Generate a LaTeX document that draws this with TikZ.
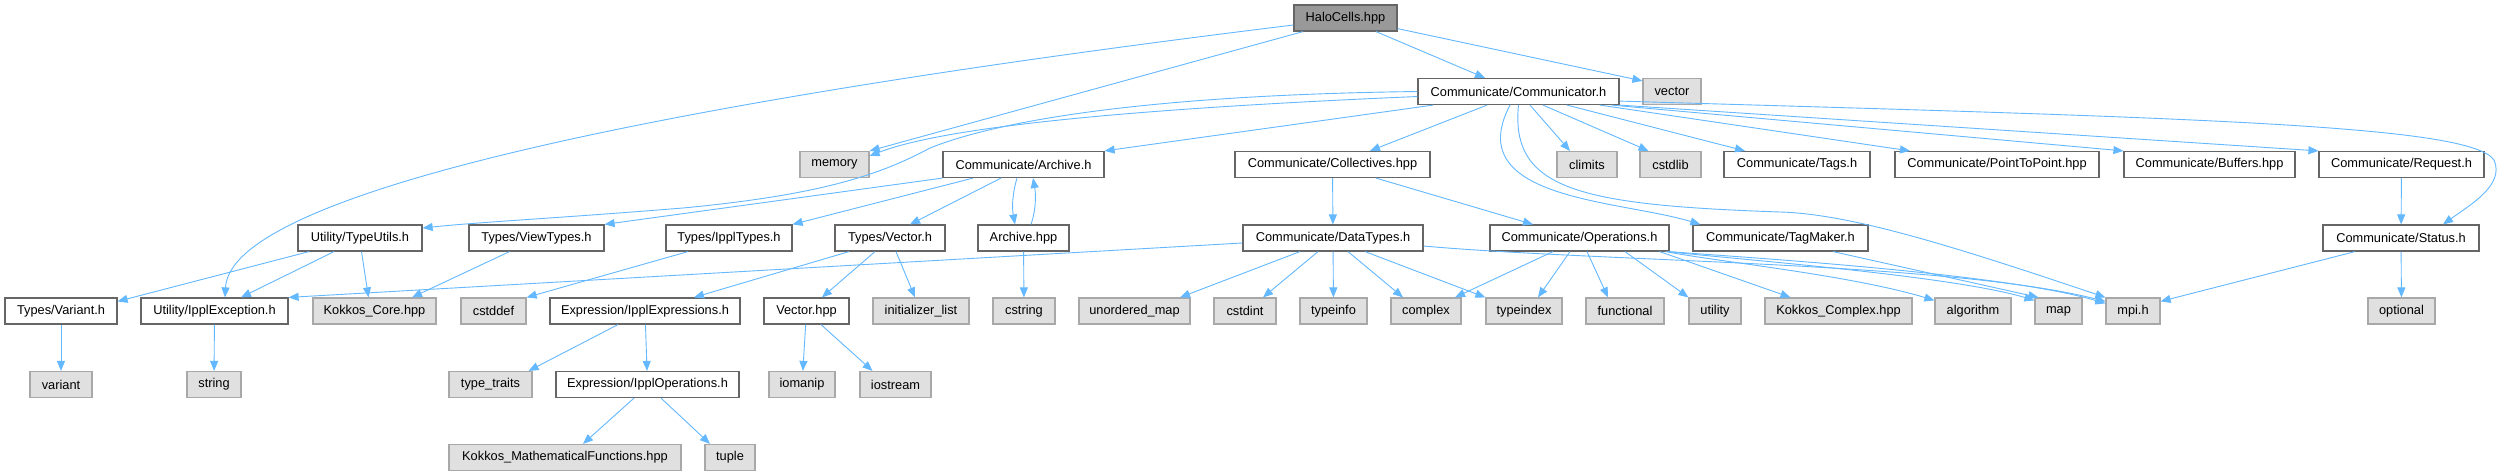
\documentclass[tikz,border=0pt]{standalone}
\usepackage{fontspec}
\setmainfont{Liberation Sans}
\usepackage{xcolor}
\usepackage{tikz}
\usetikzlibrary{arrows.meta}
\definecolor{EdgeBlue}{HTML}{63B8FF}
\definecolor{BoxBorder}{HTML}{666666}
\definecolor{SysBorder}{HTML}{A8A8A8}
\definecolor{SysFill}{HTML}{E0E0E0}
\definecolor{RootFill}{HTML}{999999}

\begin{document}
\begin{tikzpicture}[x=1pt, y=-1pt,
    filebox/.style={draw=BoxBorder, fill=white, line width=1.2pt, minimum height=26pt, inner sep=0pt, text=black, font=\fontsize{12.8}{14}\selectfont},
    sysbox/.style={filebox, draw=SysBorder, fill=SysFill},
    rootbox/.style={filebox, fill=RootFill},
    incl/.style={EdgeBlue, line width=0.9pt, -{Triangle[length=10pt, width=8pt]}}]
        \fill[white] (0,0) rectangle (2509,476);
        \useasboundingbox (0,0) rectangle (2509,476);

        \node[rootbox, minimum width=103pt] (halo) at (1345.5,18) {HaloCells.hpp};
        \node[filebox, minimum width=201pt] (comm) at (1518.5,91.5) {Communicate/Communicator.h};
        \node[sysbox, minimum width=58pt] (vector) at (1672,91.5) {vector};

        \node[sysbox, minimum width=69pt] (memory) at (834.5,164.5) {memory};
        \node[filebox, minimum width=161pt] (archive) at (1023.5,164.5) {Communicate/Archive.h};
        \node[filebox, minimum width=195pt] (coll) at (1332.5,164.5) {Communicate/Collectives.hpp};
        \node[sysbox, minimum width=60pt] (climits) at (1587,164.5) {climits};
        \node[sysbox, minimum width=61pt] (cstdlib) at (1670.5,164.5) {cstdlib};
        \node[filebox, minimum width=146pt] (tags) at (1797,164.5) {Communicate/Tags.h};
        \node[filebox, minimum width=204pt] (p2p) at (1997,164.5) {Communicate/PointToPoint.hpp};
        \node[filebox, minimum width=171pt] (buffers) at (2209.5,164.5) {Communicate/Buffers.hpp};
        \node[filebox, minimum width=165pt] (request) at (2401.5,164.5) {Communicate/Request.h};

        \node[filebox, minimum width=124pt] (typeutils) at (360,238) {Utility/TypeUtils.h};
        \node[filebox, minimum width=135pt] (viewtypes) at (536.5,238) {Types/ViewTypes.h};
        \node[filebox, minimum width=126pt] (ippltypes) at (729,238) {Types/IpplTypes.h};
        \node[filebox, minimum width=110pt] (vech) at (890,238) {Types/Vector.h};
        \node[filebox, minimum width=91pt] (archivehpp) at (1023.5,238) {Archive.hpp};
        \node[filebox, minimum width=180pt] (datatypes) at (1333,238) {Communicate/DataTypes.h};
        \node[filebox, minimum width=179pt] (operations) at (1579.5,238) {Communicate/Operations.h};
        \node[filebox, minimum width=175pt] (tagmaker) at (1780.5,238) {Communicate/TagMaker.h};
        \node[filebox, minimum width=156pt] (status) at (2401,238) {Communicate/Status.h};

        \node[filebox, minimum width=112pt] (varianth) at (61,311) {Types/Variant.h};
        \node[filebox, minimum width=147pt] (ipplexc) at (214.5,311) {Utility/IpplException.h};
        \node[sysbox, minimum width=123pt] (kokkoscore) at (374.5,311) {Kokkos\_Core.hpp};
        \node[sysbox, minimum width=65pt] (cstddef) at (493.5,311) {cstddef};
        \node[filebox, minimum width=190pt] (ipplexpr) at (645,311) {Expression/IpplExpressions.h};
        \node[filebox, minimum width=85pt] (vechpp) at (806.5,311) {Vector.hpp};
        \node[sysbox, minimum width=96pt] (initlist) at (921,311) {initializer\_list};
        \node[sysbox, minimum width=62pt] (cstring) at (1024,311) {cstring};
        \node[sysbox, minimum width=111pt] (unordmap) at (1134.5,311) {unordered\_map};
        \node[sysbox, minimum width=62pt] (cstdint) at (1245,311) {cstdint};
        \node[sysbox, minimum width=67pt] (typeinfo) at (1333.5,311) {typeinfo};
        \node[sysbox, minimum width=70pt] (complex) at (1426,311) {complex};
        \node[sysbox, minimum width=76pt] (typeindex) at (1524,311) {typeindex};
        \node[sysbox, minimum width=78pt] (functional) at (1625,311) {functional};
        \node[sysbox, minimum width=52pt] (utility) at (1715,311) {utility};
        \node[sysbox, minimum width=147pt] (kcomplex) at (1838.5,311) {Kokkos\_Complex.hpp};
        \node[sysbox, minimum width=76pt] (algorithm) at (1973,311) {algorithm};
        \node[sysbox, minimum width=47pt] (map) at (2058.5,311) {map};
        \node[sysbox, minimum width=54pt] (mpi) at (2133,311) {mpi.h};
        \node[sysbox, minimum width=67pt] (optional) at (2401.5,311) {optional};

        \node[sysbox, minimum width=62pt] (variant) at (61,384.5) {variant};
        \node[sysbox, minimum width=54pt] (string) at (214,384.5) {string};
        \node[sysbox, minimum width=83pt] (typetraits) at (490.5,384.5) {type\_traits};
        \node[filebox, minimum width=183pt] (ippops) at (647.5,384.5) {Expression/IpplOperations.h};
        \node[sysbox, minimum width=66pt] (iomanip) at (802,384.5) {iomanip};
        \node[sysbox, minimum width=71pt] (iostream) at (895.5,384.5) {iostream};

        \node[sysbox, minimum width=232pt] (kmath) at (565,457.5) {Kokkos\_MathematicalFunctions.hpp};
        \node[sysbox, minimum width=50pt] (tuple) at (730,457.5) {tuple};

        \draw[incl] ([xshift=30.5pt]halo.south) -- ([xshift=-33.5pt]comm.north);
        \draw[incl] ([yshift=3pt]halo.south east) -- ([yshift=-3pt]vector.north west);
        \draw[incl] ([xshift=-42.5pt]halo.south) -- (memory.north east);
        \draw[incl] ([yshift=-7pt]halo.west) .. controls (600,110) and (230,200) .. ([xshift=10.5pt]ipplexc.north);

        \draw[incl] ([yshift=-5pt]comm.west) .. controls (1150,108) and (950,125) .. ([yshift=-5pt]memory.north east);
        \draw[incl] (comm.west) .. controls (1150,95) and (1000,120) .. (930,148) .. controls (880,175) and (820,195) .. (683,208) .. controls (560,218) and (480,222) .. ([yshift=10pt]typeutils.east);
        \draw[incl] ([xshift=-85.5pt]comm.south) -- (archive.north east);
        \draw[incl] ([xshift=-31.5pt]comm.south) -- ([xshift=37.5pt]coll.north);
        \draw[incl] ([xshift=11.5pt]comm.south) -- ([xshift=-17pt]climits.north);
        \draw[incl] ([xshift=24.5pt]comm.south) -- ([xshift=-22pt]cstdlib.north);
        \draw[incl] ([xshift=48.5pt]comm.south) -- ([xshift=-52pt]tags.north);
        \draw[incl] ([xshift=81.5pt]comm.south) -- ([xshift=-87pt]p2p.north);
        \draw[incl] ([xshift=-8pt]comm.south east) -- (buffers.north west);
        \draw[incl] (comm.south east) -- (request.north west);
        \draw[incl] ([yshift=4pt]comm.south east) .. controls (2200,118) and (2470,125) .. (2494,160) .. controls (2505,185) and (2470,205) .. ([xshift=42pt]status.north);
        \draw[incl] ([xshift=-8.5pt]comm.south) .. controls (1460,200) and (1620,200) .. ([xshift=8pt]tagmaker.north west);
        \draw[incl] (comm.south) .. controls (1510,190) and (1580,205) .. (1780,212) .. controls (1850,214) and (1950,245) .. (mpi.north west);

        \draw[incl] (archive.south west) -- (viewtypes.north east);
        \draw[incl] ([xshift=-50.5pt]archive.south) -- (ippltypes.north east);
        \draw[incl] ([xshift=-22.5pt]archive.south) -- ([xshift=20pt]vech.north);
        \draw[incl] ([xshift=-6.5pt]archive.south) .. controls (1012,195) and (1012,208) .. ([xshift=-8.5pt]archivehpp.north);
        \draw[incl] ([xshift=7.5pt]archivehpp.north) .. controls (1036,210) and (1036,195) .. ([xshift=9.5pt]archive.south);
        \draw[incl] (archivehpp) -- (cstring);

        \draw[incl] (coll) -- (datatypes);
        \draw[incl] ([xshift=43.5pt]coll.south) -- ([xshift=-46.5pt]operations.north);

        \draw[incl] ([xshift=-33pt]datatypes.south) -- ([xshift=45.5pt]unordmap.north);
        \draw[incl] ([xshift=-15pt]datatypes.south) -- ([xshift=18pt]cstdint.north);
        \draw[incl] (datatypes) -- (typeinfo);
        \draw[incl] ([xshift=15pt]datatypes.south) -- ([xshift=-23pt]complex.north);
        \draw[incl] ([xshift=32pt]datatypes.south) -- (typeindex.north west);
        \draw[incl] ([yshift=-5pt]datatypes.west) -- (ipplexc.north east);
        \draw[incl] ([yshift=-8pt]datatypes.east) .. controls (1600,262) and (1950,262) .. ([yshift=-4pt]mpi.north west);

        \draw[incl] ([xshift=-26.5pt]operations.south) -- ([xshift=29pt]complex.north);
        \draw[incl] ([xshift=-9.5pt]operations.south) -- ([xshift=14pt]typeindex.north);
        \draw[incl] ([xshift=7.5pt]operations.south) -- ([xshift=-17pt]functional.north);
        \draw[incl] ([xshift=45.5pt]operations.south) -- (utility.north west);
        \draw[incl] ([xshift=-10pt]operations.south east) -- ([xshift=-48pt]kcomplex.north);
        \draw[incl] ([xshift=-4pt]operations.south east) .. controls (1720,262) and (1850,275) .. ([yshift=-3pt]algorithm.north west);
        \draw[incl] ([xshift=-2pt]operations.south east) .. controls (1720,258) and (1950,275) .. ([yshift=-3pt]map.north west);
        \draw[incl] (operations.south east) .. controls (1720,256) and (2000,272) .. ([yshift=-6pt]mpi.north west);

        \draw[incl] ([xshift=52.5pt]tagmaker.south) -- ([xshift=4pt]map.north west);
        \draw[incl] (request) -- (status);
        \draw[incl] ([xshift=-46pt]status.south) -- ([yshift=-4pt]mpi.north east);
        \draw[incl] (status) -- (optional);

        \draw[incl] ([xshift=-51pt]typeutils.south) -- ([yshift=-4pt]varianth.north east);
        \draw[incl] ([xshift=-26pt]typeutils.south) -- ([xshift=26.5pt]ipplexc.north);
        \draw[incl] ([xshift=1.5pt]typeutils.south) -- ([xshift=-6pt]kokkoscore.north);
        \draw[incl] ([xshift=-27pt]viewtypes.south) -- ([xshift=37.5pt]kokkoscore.north);
        \draw[incl] ([xshift=-41pt]ippltypes.south) -- (cstddef.north east);
        \draw[incl] ([xshift=-41pt]vech.south) -- ([xshift=49pt]ipplexpr.north);
        \draw[incl] ([xshift=-15pt]vech.south) -- ([xshift=15.5pt]vechpp.north);
        \draw[incl] ([xshift=6pt]vech.south) -- ([xshift=-6pt]initlist.north);
        \draw[incl] (vechpp) -- (iomanip);
        \draw[incl] ([xshift=14.5pt]vechpp.south) -- ([xshift=-23pt]iostream.north);
        \draw[incl] ([xshift=-27pt]ipplexpr.south) -- ([xshift=-4pt]typetraits.north east);
        \draw[incl] (ipplexpr) -- (ippops);
        \draw[incl] ([xshift=-13.5pt]ippops.south) -- ([xshift=18pt]kmath.north);
        \draw[incl] ([xshift=13.5pt]ippops.south) -- ([xshift=-20pt]tuple.north);
        \draw[incl] (ipplexc) -- (string);
        \draw[incl] (varianth) -- (variant);
    \end{tikzpicture}
\end{document}
